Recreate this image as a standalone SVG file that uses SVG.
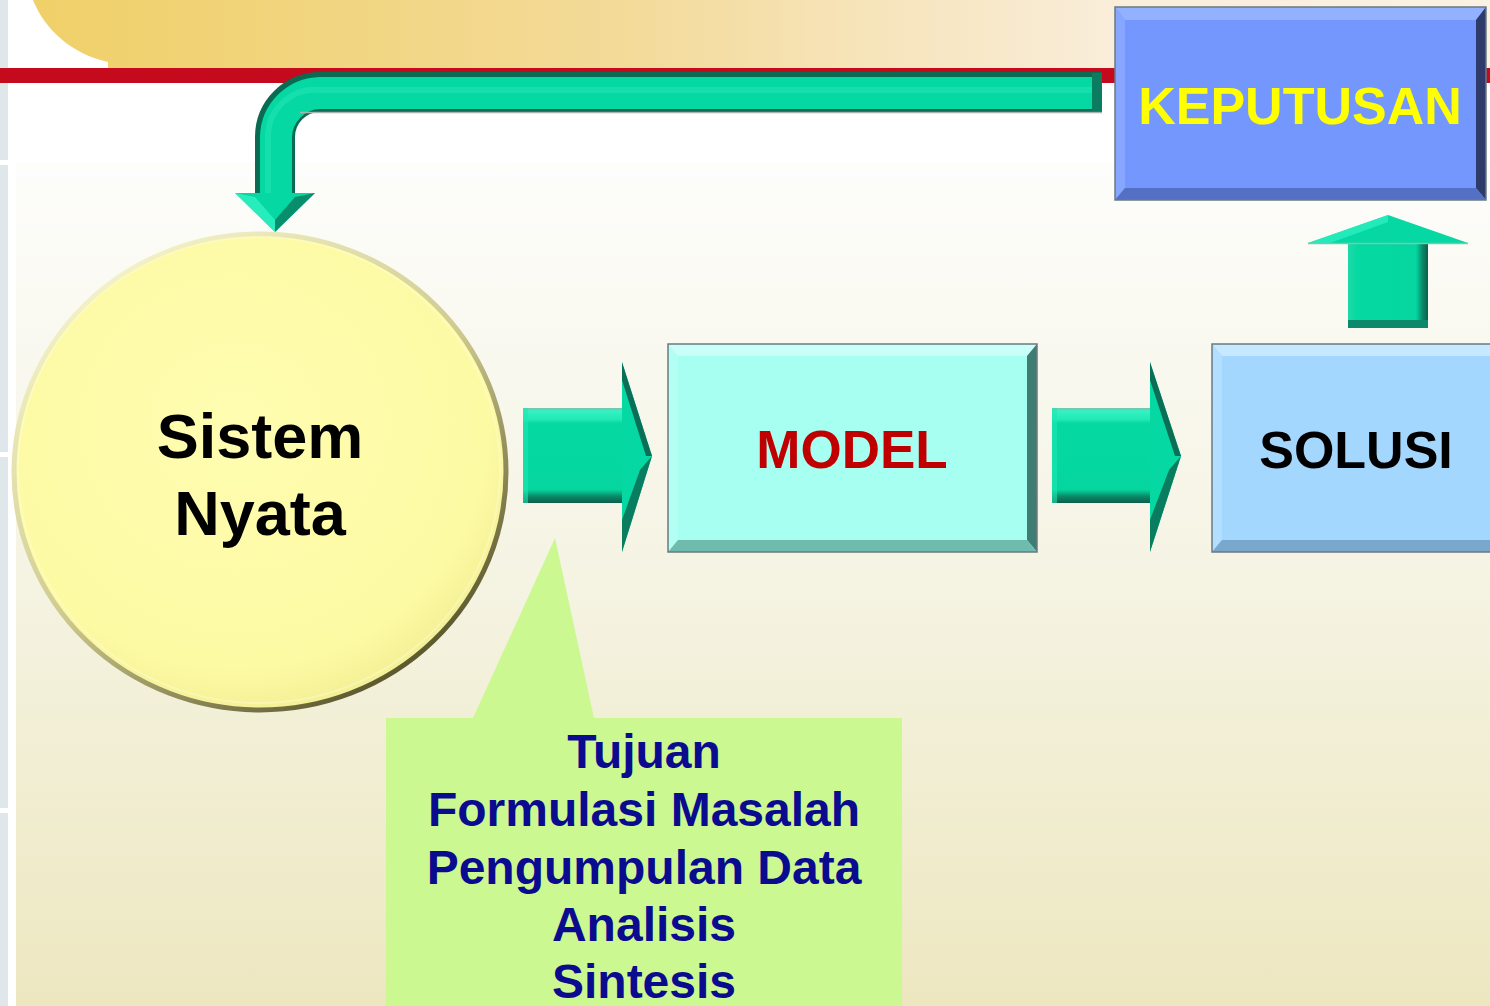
<svg xmlns="http://www.w3.org/2000/svg" width="1490" height="1006" viewBox="0 0 1490 1006">
  <defs>
    <linearGradient id="bandGrad" x1="0" y1="0" x2="1" y2="0">
      <stop offset="0" stop-color="#f0d068"/>
      <stop offset="0.4" stop-color="#f3da98"/>
      <stop offset="0.75" stop-color="#faeedc"/>
      <stop offset="1" stop-color="#fbf2e4"/>
    </linearGradient>
    <linearGradient id="bgGrad" x1="0" y1="0" x2="0" y2="1">
      <stop offset="0" stop-color="#fdfdfb"/>
      <stop offset="0.5" stop-color="#f5f3e2"/>
      <stop offset="1" stop-color="#ede7c0"/>
    </linearGradient>
    <radialGradient id="circleFill" cx="0.45" cy="0.4" r="0.6">
      <stop offset="0" stop-color="#fffdb0"/>
      <stop offset="0.85" stop-color="#fdfaa4"/>
      <stop offset="1" stop-color="#f4f096"/>
    </radialGradient>
    <linearGradient id="circleRim" x1="0.2" y1="0.1" x2="0.8" y2="0.9">
      <stop offset="0" stop-color="#f2f0c4"/>
      <stop offset="0.5" stop-color="#cfcb90"/>
      <stop offset="1" stop-color="#5e5a30"/>
    </linearGradient>
    <linearGradient id="tealBody" x1="0" y1="0" x2="0" y2="1">
      <stop offset="0" stop-color="#7fbfae"/>
      <stop offset="0.03" stop-color="#34f2c4"/>
      <stop offset="0.12" stop-color="#22e8b6"/>
      <stop offset="0.16" stop-color="#05d9a2"/>
      <stop offset="0.86" stop-color="#05d6a0"/>
      <stop offset="0.93" stop-color="#0a8a6a"/>
      <stop offset="1" stop-color="#0d5e4a"/>
    </linearGradient>
    <linearGradient id="tealUp" x1="0" y1="0" x2="1" y2="0">
      <stop offset="0" stop-color="#1fd9a8"/>
      <stop offset="0.12" stop-color="#05d9a2"/>
      <stop offset="0.85" stop-color="#05d6a0"/>
      <stop offset="0.93" stop-color="#0a8a6a"/>
      <stop offset="1" stop-color="#0d5e4a"/>
    </linearGradient>
  </defs>

  <style>
    .strip { fill: #dfe7ea; }
    .teal { fill: #05d8a2; }
    .tealDark { fill: #0a7c60; }
    .tealLight { fill: #30f2c4; }
    .label { font-family: "Liberation Sans", Arial, sans-serif; font-weight: bold; text-anchor: middle; }
    .boxEdge { fill: none; stroke: #6a7a80; stroke-width: 1.5; }
  </style>

  <!-- page background -->
  <rect x="0" y="0" width="1490" height="1006" fill="#ffffff"/>
  <rect x="16" y="163" width="1474" height="843" fill="url(#bgGrad)"/>
  <rect class="strip" x="0" y="0" width="8" height="160"/>
  <rect class="strip" x="0" y="165" width="8" height="287"/>
  <rect class="strip" x="0" y="457" width="8" height="351"/>
  <rect class="strip" x="0" y="813" width="8" height="193"/>

  <!-- title band -->
  <path d="M33,0 C45,30 72,54 108,62 L108,68 L1490,68 L1490,0 Z" fill="url(#bandGrad)"/>
  <rect x="0" y="68" width="1490" height="15" fill="#c40a1c"/>

  <!-- connectors -->
  <g id="connectors">
    <!-- feedback: KEPUTUSAN back to Sistem Nyata -->
    <g id="feedback-arrow">
      <path d="M1102,92 H320 A45,45 0 0 0 275,137 V195" fill="none" stroke="#0a6a52" stroke-width="40"/>
      <path d="M1100,93 H320 A45,45 0 0 0 276,137 V195" fill="none" stroke="#05d8a2" stroke-width="32"/>
      <path d="M1096,90 H320 A47,47 0 0 0 268,137 V195" fill="none" stroke="#3cf2c8" stroke-width="6" opacity="0.3"/>
      <path d="M1092,73 L1102,73 L1102,111 L1092,111 Z" fill="#0a7c60"/>
      <line x1="300" y1="112.5" x2="1102" y2="112.5" stroke="#a8b4b0" stroke-width="1.5"/>
      <polygon points="235,193 315,193 275,232" class="teal"/>
      <polygon points="235,193 255,197 275,220 275,232" class="tealLight" opacity="0.8"/>
      <polygon points="315,193 295,197 275,220 275,232" class="tealDark" opacity="0.8"/>
    </g>

    <!-- Sistem Nyata to MODEL -->
    <g id="arrow-to-model">
      <rect x="523" y="408" width="100" height="95" fill="url(#tealBody)"/>
      <rect x="523" y="408" width="5" height="95" fill="#1ee6b2" opacity="0.6"/>
      <polygon points="622,362 652,456 622,552" class="teal"/>
      <polygon points="622,362 652,456 646,456 622,380" fill="#0b6e56"/>
      <polygon points="652,456 622,552 622,520 640,470" fill="#0a7c60"/>
    </g>

    <!-- MODEL to SOLUSI -->
    <g id="arrow-to-solusi">
      <rect x="1052" y="408" width="99" height="95" fill="url(#tealBody)"/>
      <rect x="1052" y="408" width="5" height="95" fill="#1ee6b2" opacity="0.6"/>
      <polygon points="1150,362 1181,456 1150,552" class="teal"/>
      <polygon points="1150,362 1181,456 1175,456 1150,380" fill="#0b6e56"/>
      <polygon points="1181,456 1150,552 1150,520 1169,470" fill="#0a7c60"/>
    </g>

    <!-- SOLUSI up to KEPUTUSAN -->
    <g id="arrow-to-keputusan">
      <rect x="1348" y="243" width="80" height="85" fill="url(#tealUp)"/>
      <rect x="1348" y="320" width="80" height="8" fill="#0a8a6a"/>
      <polygon points="1308,243 1388,215 1468,243" class="teal"/>
      <polygon points="1308,243 1388,215 1388,222 1330,243" class="tealLight" opacity="0.7"/>
      <line x1="1308" y1="243.5" x2="1468" y2="243.5" stroke="#7ac8b0" stroke-width="1.5"/>
    </g>
  </g>

  <!-- Sistem Nyata -->
  <g id="node-sistem-nyata">
    <ellipse cx="260" cy="472" rx="248" ry="240" fill="url(#circleFill)"/>
    <ellipse cx="260" cy="472" rx="246" ry="238" fill="none" stroke="url(#circleRim)" stroke-width="5"/>
    <ellipse cx="259" cy="470" rx="241" ry="233" fill="none" stroke="#ffffe0" stroke-width="2" opacity="0.35"/>
    <text class="label" x="260" y="458" font-size="63" fill="#000000">Sistem</text>
    <text class="label" x="260" y="535" font-size="63" fill="#000000">Nyata</text>
  </g>

  <!-- MODEL -->
  <g id="node-model">
    <rect x="668" y="344" width="369" height="208" fill="#a6fff0"/>
    <polygon points="668,344 1037,344 1027,356 678,356" fill="#cafff8"/>
    <polygon points="668,344 678,356 678,540 668,552" fill="#b4fff4"/>
    <polygon points="1037,344 1037,552 1027,540 1027,356" fill="#3f7c72"/>
    <polygon points="668,552 678,540 1027,540 1037,552" fill="#6fbcae"/>
    <rect class="boxEdge" x="668" y="344" width="369" height="208"/>
    <text class="label" x="852" y="468" font-size="53" fill="#c00000">MODEL</text>
  </g>

  <!-- SOLUSI -->
  <g id="node-solusi">
    <rect x="1212" y="344" width="290" height="208" fill="#a3d7fd"/>
    <polygon points="1212,344 1500,344 1490,356 1222,356" fill="#c6e9ff"/>
    <polygon points="1212,344 1222,356 1222,540 1212,552" fill="#b2dfff"/>
    <polygon points="1212,552 1222,540 1500,540 1500,552" fill="#7aa8cc"/>
    <rect class="boxEdge" x="1212" y="344" width="290" height="208"/>
    <text class="label" x="1356" y="468" font-size="52" fill="#000000">SOLUSI</text>
  </g>

  <!-- KEPUTUSAN -->
  <g id="node-keputusan">
    <rect x="1115" y="7" width="371" height="193" fill="#7397fd"/>
    <polygon points="1115,7 1486,7 1476,20 1125,20" fill="#92b2ff"/>
    <polygon points="1115,7 1125,20 1125,188 1115,200" fill="#86a6ff"/>
    <polygon points="1486,7 1486,200 1476,188 1476,20" fill="#2e3a6a"/>
    <polygon points="1115,200 1125,188 1476,188 1486,200" fill="#5370c4"/>
    <rect class="boxEdge" x="1115" y="7" width="371" height="193"/>
    <text class="label" x="1300" y="124" font-size="52" fill="#ffff00">KEPUTUSAN</text>
  </g>

  <!-- callout with the modelling steps -->
  <g id="node-langkah">
    <path d="M386,718 H473 L555,538 L594,718 H902 V1006 H386 Z" fill="#ccf892"/>
    <g class="label" font-size="48" fill="#0b0b8f">
      <text x="644" y="768">Tujuan</text>
      <text x="644" y="826">Formulasi Masalah</text>
      <text x="644" y="884">Pengumpulan Data</text>
      <text x="644" y="941">Analisis</text>
      <text x="644" y="998">Sintesis</text>
    </g>
  </g>
</svg>
